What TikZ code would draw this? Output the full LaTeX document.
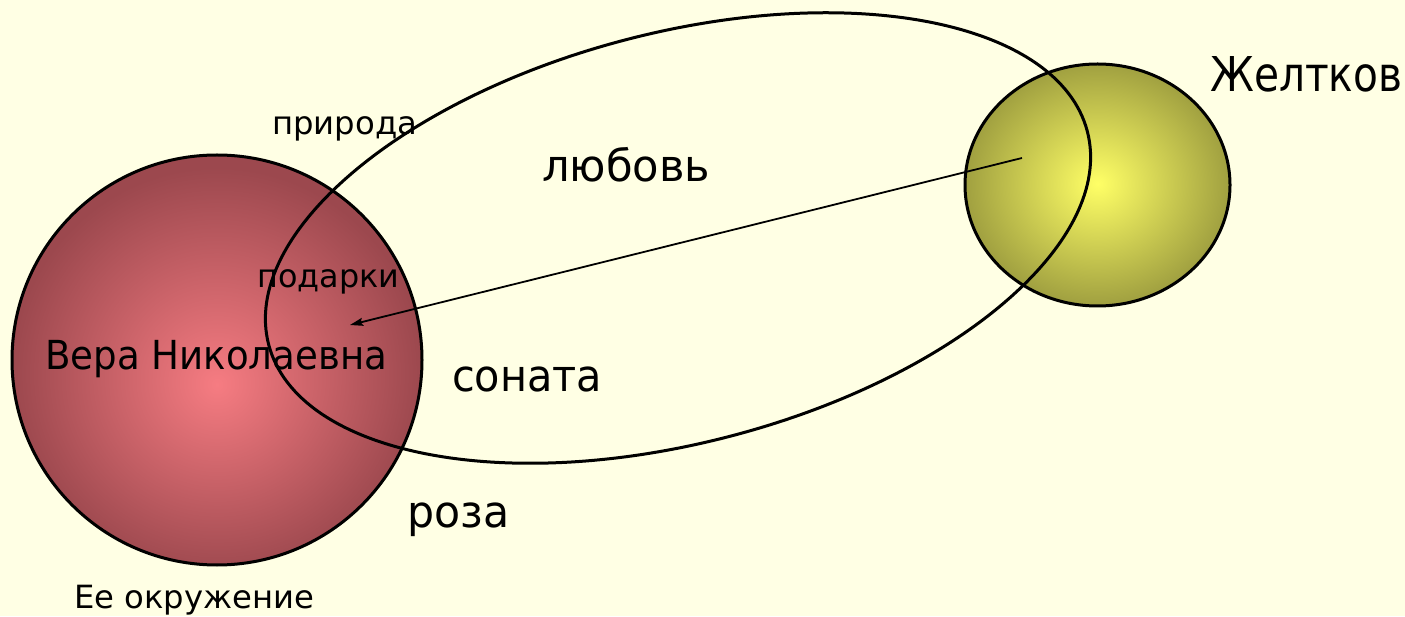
\documentclass[tikz,border=0pt]{standalone}
\usepackage{fontspec}
\setmainfont{DejaVu Sans}
\usetikzlibrary{arrows.meta}
\definecolor{bgc}{RGB}{255,255,228}
\definecolor{redin}{RGB}{246,124,130}
\definecolor{redout}{RGB}{156,72,78}
\definecolor{yelin}{RGB}{255,255,102}
\definecolor{yelout}{RGB}{160,160,64}
\pgfdeclareradialshading{redball}{\pgfpoint{0bp}{-3bp}}{color(0bp)=(redin); color(25bp)=(redout); color(50bp)=(redout)}
\pgfdeclareradialshading{yelball}{\pgfpoint{0bp}{0.3bp}}{color(0bp)=(yelin); color(25bp)=(yelout); color(50bp)=(yelout)}
\newcommand{\fitw}[2]{\resizebox{#1pt}{\height}{#2}}
\tikzset{
  outl/.style={draw=black, line width=3pt},
  lbl/.style={anchor=base west, inner sep=0pt, text=black},
  big/.style={lbl, font=\fontsize{44}{50}\selectfont},
  mid/.style={lbl, font=\fontsize{40}{46}\selectfont},
  small/.style={lbl, font=\fontsize{32}{38}\selectfont},
  huge/.style={lbl, font=\fontsize{48}{54}\selectfont},
  conn/.style={draw=black, line width=1.8pt, -{Stealth[length=13pt,width=8pt,inset=2pt]}}
}
\begin{document}
\begin{tikzpicture}[x=1pt,y=1pt]
\fill[bgc] (0,0) rectangle (1405,616);
\useasboundingbox (0,0) rectangle (1405,616);
% circles
\path[outl, shading=redball] (217,256) circle[radius=205];
\path[outl, shading=yelball] (1097.5,431) ellipse[x radius=132.5, y radius=121];
% big ellipse
\draw[line width=3pt, rotate around={14.6:(678,378)}] (678,378) ellipse[x radius=423, y radius=205];
% labels
\node[huge] (zh) at (1210,524) {\fitw{192}{Желтков}};
\node[big] (lub) at (542,434) {\fitw{168}{любовь}};
\node[big] (son) at (452,224) {\fitw{150}{соната}};
\node[big] (roz) at (407,89) {\fitw{102}{роза}};
\node[mid] (vera) at (45,246) {\fitw{342}{Вера Николаевна}};
\node[small] (pod) at (257,328) {\fitw{142}{подарки}};
\node[small] (pri) at (272,481) {\fitw{145}{природа}};
\node[small] (okr) at (74,8) {\fitw{240}{Ее окружение}};
% arrow
\coordinate (aS) at (1022,458);
\coordinate (aE) at (350,291);
\draw[conn] (aS) -- (aE);
\end{tikzpicture}
\end{document}
